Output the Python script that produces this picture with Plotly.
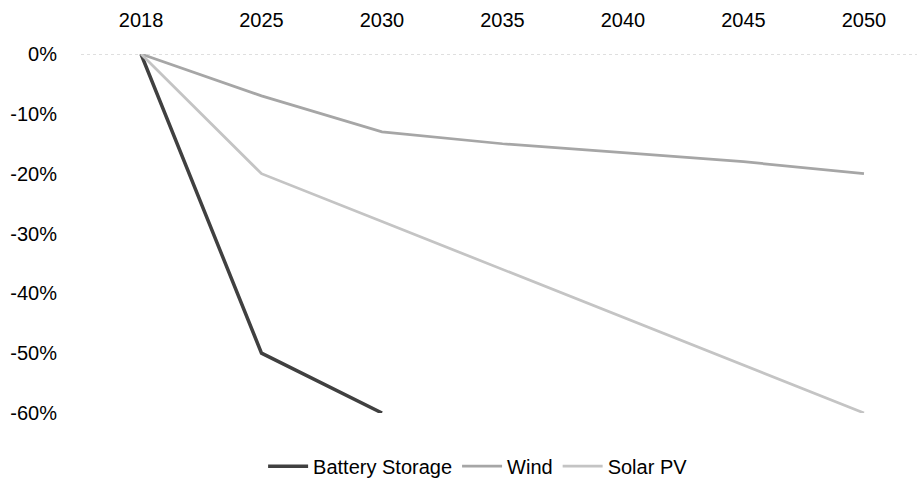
import plotly.graph_objects as go

years = ["2018", "2025", "2030", "2035", "2040", "2045", "2050"]
battery_storage = [0, -50, -60, None, None, None, None]
wind = [0, -7, -13, -15, -16.5, -18, -20]
solar_pv = [0, -20, -28, -36, -44, -52, -60]
y_ticks = [0, -10, -20, -30, -40, -50, -60]
y_labels = ["0%", "-10%", "-20%", "-30%", "-40%", "-50%", "-60%"]

font_family = "Liberation Sans, Arial"

fig = go.Figure()
fig.add_trace(go.Scatter(x=years, y=battery_storage, name="Battery Storage",
                         mode="lines", line=dict(color="#404040", width=3.5)))
fig.add_trace(go.Scatter(x=years, y=wind, name="Wind",
                         mode="lines", line=dict(color="#a6a6a6", width=2.75)))
fig.add_trace(go.Scatter(x=years, y=solar_pv, name="Solar PV",
                         mode="lines", line=dict(color="#c4c4c4", width=2.75)))

# dotted zero line across the full plot width
fig.add_shape(type="line", xref="paper", yref="y", x0=0, x1=1, y0=0, y1=0,
              line=dict(color="#bfbfbf", width=1, dash="dot"), layer="below")

fig.update_layout(
    width=917, height=480,
    margin=dict(l=81, r=0, t=54, b=67, autoexpand=False),
    plot_bgcolor="white", paper_bgcolor="white",
    font=dict(family=font_family, size=20, color="#000000"),
    showlegend=True,
    legend=dict(orientation="h", x=0.475, xanchor="center", y=-0.148, yanchor="middle",
                font=dict(size=20, color="#000000"), itemwidth=40,
                bgcolor="rgba(0,0,0,0)"),
    xaxis=dict(type="category", categoryorder="array", categoryarray=years,
               range=[-0.498, 6.44], side="top", showgrid=False, zeroline=False,
               showline=False, ticks="", ticklabelstandoff=22,
               tickfont=dict(size=20), automargin=False),
    yaxis=dict(range=[-60, 0], tickvals=y_ticks, ticktext=y_labels,
               showgrid=False, zeroline=False, showline=False, ticks="",
               ticklabelstandoff=23, tickfont=dict(size=20), automargin=False),
)

fig.write_html("out.html")
